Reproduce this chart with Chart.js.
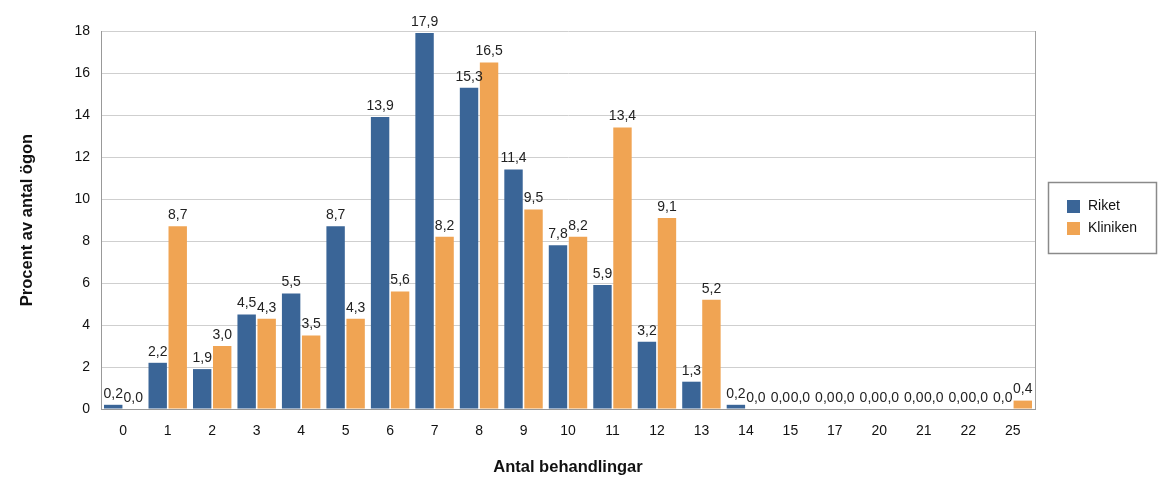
<!DOCTYPE html>
<html>
<head>
<meta charset="utf-8">
<script src="https://cdn.jsdelivr.net/npm/chart.js@4"></script>
<style>
  html, body { margin: 0; padding: 0; background: #fff; }
  #wrap { width: 1158px; height: 481px; position: relative; }
</style>
</head>
<body>
<div id="wrap"><canvas id="behandlingar-chart"></canvas></div>
<script>
const CATEGORIES = ['0', '1', '2', '3', '4', '5', '6', '7', '8', '9', '10', '11', '12', '13', '14', '15', '17', '20', '21', '22', '25']
const RIKET = [0.2, 2.2, 1.9, 4.5, 5.5, 8.7, 13.9, 17.9, 15.3, 11.4, 7.8, 5.9, 3.2, 1.3, 0.2, 0.0, 0.0, 0.0, 0.0, 0.0, 0.0]
const KLINIKEN = [0.0, 8.7, 3.0, 4.3, 3.5, 4.3, 5.6, 8.2, 16.5, 9.5, 8.2, 13.4, 9.1, 5.2, 0.0, 0.0, 0.0, 0.0, 0.0, 0.0, 0.4]

const BLUE = '#3a6597'
const ORANGE = '#f0a453'
const FONT = 'Liberation Sans, Arial, sans-serif'

// value labels above each bar, swedish decimal comma
const valueLabels = {
  id: 'valueLabels',
  afterDatasetsDraw(chart) {
    const ctx = chart.ctx
    ctx.save()
    ctx.font = '14px ' + FONT
    ctx.fillStyle = '#222'
    ctx.textAlign = 'center'
    ctx.textBaseline = 'bottom'
    chart.data.datasets.forEach((ds, i) => {
      chart.getDatasetMeta(i).data.forEach((bar, j) => {
        ctx.fillText(ds.data[j].toFixed(1).replace('.', ','), bar.x, bar.y - 4)
      })
    })
    ctx.restore()
  },
}

// right border of the plot and a boxed legend
const frameAndLegend = {
  id: 'frameAndLegend',
  afterDraw(chart) {
    const { ctx, chartArea } = chart
    ctx.save()
    ctx.strokeStyle = '#a0a0a0'
    ctx.lineWidth = 1
    ctx.beginPath()
    ctx.moveTo(Math.round(chartArea.right) + 0.5, chartArea.top)
    ctx.lineTo(Math.round(chartArea.right) + 0.5, chartArea.bottom)
    ctx.stroke()

    const bx = 1048.5, by = 182.5, bw = 108, bh = 71
    ctx.strokeStyle = '#8a8a8a'
    ctx.lineWidth = 1.5
    ctx.strokeRect(bx, by, bw, bh)

    ctx.font = '14px ' + FONT
    ctx.textBaseline = 'middle'
    ctx.textAlign = 'left'
    chart.data.datasets.forEach((ds, i) => {
      const y = 206 + i * 22
      ctx.fillStyle = ds.backgroundColor
      ctx.fillRect(1067, y - 6, 13, 13)
      ctx.fillStyle = '#111'
      ctx.fillText(ds.label, 1088, y)
    })
    ctx.restore()
  },
}

new Chart(document.getElementById('behandlingar-chart'), {
  type: 'bar',
  data: {
    labels: CATEGORIES,
    datasets: [
      { label: 'Riket', data: RIKET, backgroundColor: BLUE },
      { label: 'Kliniken', data: KLINIKEN, backgroundColor: ORANGE },
    ],
  },
  options: {
    responsive: true,
    maintainAspectRatio: false,
    animation: false,
    layout: { padding: { left: 0, right: 123, top: 31, bottom: 0 } },
    datasets: { bar: { categoryPercentage: 0.9, barPercentage: 0.92 } },
    plugins: {
      legend: { display: false },
      tooltip: { enabled: false },
    },
    scales: {
      x: {
        grid: { display: false, drawTicks: false },
        border: { color: '#999', width: 1 },
        ticks: { color: '#111', font: { family: FONT, size: 14 }, padding: 14, maxRotation: 0, autoSkip: false },
        title: { display: true, text: 'Antal behandlingar', color: '#111', font: { family: FONT, size: 16.5, weight: 'bold' }, padding: { top: 14 } },
        afterFit(scale) { scale.height = 72 },
      },
      y: {
        min: 0,
        max: 18,
        ticks: { stepSize: 2, color: '#111', font: { family: FONT, size: 14 }, padding: 11 },
        grid: { color: '#cfcfcf', drawTicks: false },
        border: { color: '#999', width: 1 },
        title: { display: true, text: 'Procent av antal ögon', color: '#111', font: { family: FONT, size: 16.5, weight: 'bold' }, padding: { top: 18, bottom: 0 } },
        afterFit(scale) { scale.width = 101 },
      },
    },
  },
  plugins: [valueLabels, frameAndLegend],
})
</script>
</body>
</html>
